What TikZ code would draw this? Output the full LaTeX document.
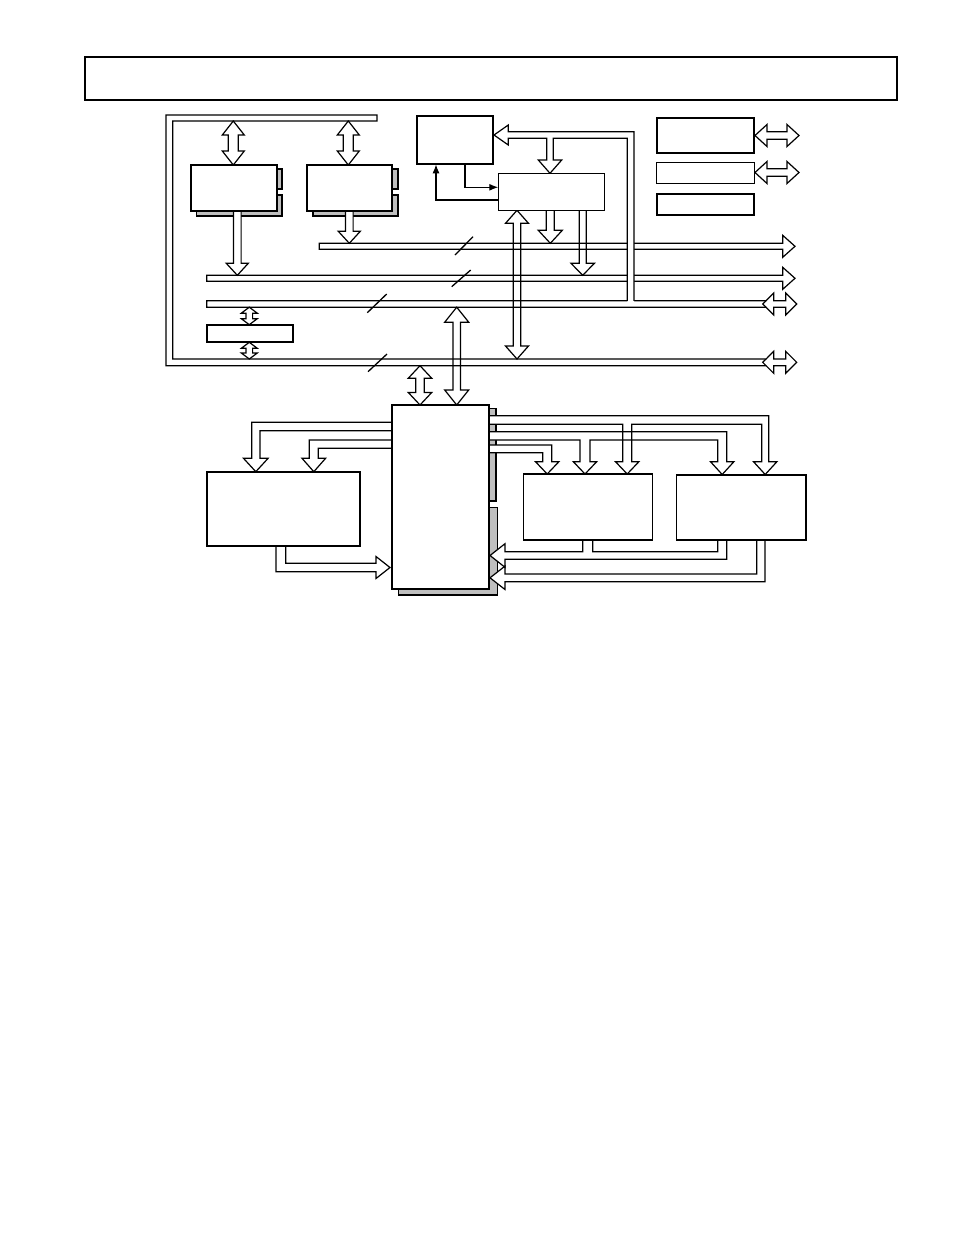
\documentclass[tikz,border=0pt]{standalone}
\usetikzlibrary{arrows.meta}
% hollow arrow shapes (pixel coordinates)
% {style}{cx}{y1}{y2}{shaft half}{head half}{head length}
\newcommand\dnarrow[7]{\path[#1] (#2-#5,#3) -- (#2-#5,#4-#7) -- (#2-#6,#4-#7) -- (#2,#4) -- (#2+#6,#4-#7) -- (#2+#5,#4-#7) -- (#2+#5,#3) -- cycle;}
\newcommand\vdarrow[7]{\path[#1] (#2,#3) -- (#2+#6,#3+#7) -- (#2+#5,#3+#7) -- (#2+#5,#4-#7) -- (#2+#6,#4-#7) -- (#2,#4) -- (#2-#6,#4-#7) -- (#2-#5,#4-#7) -- (#2-#5,#3+#7) -- (#2-#6,#3+#7) -- cycle;}
% {style}{cy}{x1}{x2}{shaft half}{head half}{head length}
\newcommand\hdarrow[7]{\path[#1] (#3,#2) -- (#3+#7,#2-#6) -- (#3+#7,#2-#5) -- (#4-#7,#2-#5) -- (#4-#7,#2-#6) -- (#4,#2) -- (#4-#7,#2+#6) -- (#4-#7,#2+#5) -- (#3+#7,#2+#5) -- (#3+#7,#2+#6) -- cycle;}

\newcommand\upperbuses[1]{%
  % outer U-shaped bus with double arrow end
  \path[#1] (377,115) -- (166,115) -- (166,365.7) -- (766.1,365.7) -- (773.7,373.3) -- (773.7,365.7) -- (785.7,365.7) -- (785.7,373.3) -- (796.7,362.3) -- (785.7,351.3) -- (785.7,359) -- (773.7,359) -- (773.7,351.3) -- (766.1,359) -- (172.7,359) -- (172.7,121) -- (377,121) -- cycle;
  \path[#1] (766.1,359) -- (762.7,362.3) -- (766.1,365.7);
  % bus 3
  \path[#1] (206.7,300.8) -- (765.9,300.8) -- (773.7,293) -- (773.7,300.8) -- (785.7,300.8) -- (785.7,293) -- (796.7,304) -- (785.7,315) -- (785.7,307.2) -- (773.7,307.2) -- (773.7,315) -- (765.9,307.2) -- (206.7,307.2) -- cycle;
  \path[#1] (765.9,300.8) -- (762.7,304) -- (765.9,307.2);
  % bus 2 and bus 1
  \path[#1] (206.7,275.3) -- (782.7,275.3) -- (782.7,267.3) -- (795,278.3) -- (782.7,289.3) -- (782.7,281.3) -- (206.7,281.3) -- cycle;
  \path[#1] (319.3,243.3) -- (782.7,243.3) -- (782.7,235.3) -- (795,246.3) -- (782.7,257.3) -- (782.7,249.3) -- (319.3,249.3) -- cycle;
  % memories
  \vdarrow{#1}{233.3}{121}{165}{5}{11}{14}
  \vdarrow{#1}{348.3}{121}{165}{5}{11}{14}
  \dnarrow{#1}{237.3}{211}{275.3}{3.8}{11}{12}
  \dnarrow{#1}{349.3}{211}{243.3}{3.8}{11}{12}
  % small box
  \vdarrow{#1}{249.3}{307.2}{324.7}{3.3}{8}{6}
  \vdarrow{#1}{249.3}{342.3}{359}{3.3}{8}{6}
  % from D
  \dnarrow{#1}{550.3}{210.3}{243.3}{4}{12}{13}
  \dnarrow{#1}{582.7}{210.3}{275.3}{3.5}{11.7}{12}
  \vdarrow{#1}{517}{210.3}{359}{3.7}{11.5}{13}
  % to M
  \vdarrow{#1}{456.7}{307.2}{405}{3.7}{12}{15}
  \vdarrow{#1}{420}{365.7}{405}{4.2}{11.7}{12.5}
  % E, F
  \hdarrow{#1}{135.5}{755}{799}{3.8}{11}{12}
  \hdarrow{#1}{172.5}{755}{799}{3.8}{11}{12}
}

\newcommand\lowerbuses[1]{%
  % M to L
  \path[#1] (391.7,422.3) -- (251.7,422.3) -- (251.7,458.3) -- (243.5,458.3) -- (255.8,471.7) -- (268.1,458.3) -- (260,458.3) -- (260,430.7) -- (391.7,430.7) -- cycle;
  \path[#1] (391.7,440) -- (309.3,440) -- (309.3,458.3) -- (302,458.3) -- (313.8,471.7) -- (325.6,458.3) -- (318.3,458.3) -- (318.3,448.3) -- (391.7,448.3) -- cycle;
  % L to M
  \path[#1] (276,545.7) -- (276,571.7) -- (376,571.7) -- (376,578.5) -- (390,567.5) -- (376,556.5) -- (376,563.3) -- (285.7,563.3) -- (285.7,545.7) -- cycle;
  % bus a
  \path[#1] (489,415.7) -- (768.7,415.7) -- (768.7,461.7) -- (776.9,461.7) -- (765.2,474.5) -- (753.5,461.7) -- (761.7,461.7) -- (761.7,424.3) -- (631.7,424.3) -- (631.7,461.7) -- (638.9,461.7) -- (627.2,474) -- (615.5,461.7) -- (622.7,461.7) -- (622.7,424.3) -- (489,424.3) -- cycle;
  % bus b
  \path[#1] (489,431.7) -- (726.7,431.7) -- (726.7,461.7) -- (733.9,461.7) -- (722.2,474.5) -- (710.5,461.7) -- (717.7,461.7) -- (717.7,440) -- (590,440) -- (590,461.7) -- (596.7,461.7) -- (585,474) -- (573.3,461.7) -- (580,461.7) -- (580,440) -- (489,440) -- cycle;
  % bus c
  \path[#1] (489,445) -- (551.7,445) -- (551.7,461.7) -- (558.9,461.7) -- (547.2,474) -- (535.5,461.7) -- (542.7,461.7) -- (542.7,452.7) -- (489,452.7) -- cycle;
  % bus e (R1, R2 back to M)
  \path[#1] (490,555.5) -- (505,543.7) -- (505,551.7) -- (582.7,551.7) -- (582.7,540) -- (592.7,540) -- (592.7,551.7) -- (717.7,551.7) -- (717.7,540) -- (726.7,540) -- (726.7,559.3) -- (505,559.3) -- (505,567.3) -- cycle;
  % bus f
  \path[#1] (490,577.8) -- (505,566.1) -- (505,574) -- (756.7,574) -- (756.7,540) -- (765,540) -- (765,581.7) -- (505,581.7) -- (505,589.5) -- cycle;
}

\begin{document}
\begin{tikzpicture}[x=1pt,y=-1pt,
  box/.style={draw, line width=1.8pt, fill=white, inner sep=0pt, outer sep=0pt},
  thinbox/.style={box, line width=1.3pt},
  shade/.style={draw, line width=1.1pt, fill=black!25},
  busfill/.style={fill=white, draw=none},
  busline/.style={draw, line width=1.2pt, line join=miter},
  thinarr/.style={draw, line width=1.2pt, -{Latex[length=9pt,width=7pt]}},
  slash/.style={draw, line width=1.3pt}]
\useasboundingbox[fill=white] (0,0) rectangle (954,1235);

% shadows
\path[shade] (270,169) rectangle (282,189);
\path[shade] (196.7,195) rectangle (282,216);
\path[shade] (386,169) rectangle (398,189);
\path[shade] (313,195) rectangle (398,216);
\path[shade] (480,408.3) rectangle (496,501);
\path[shade] (398.3,507.3) rectangle (497.3,595);

% upper buses
\upperbuses{busfill}
\upperbuses{busline}

% bus from C (covers crossing buses)
\path[busfill] (494,135) -- (508.3,125) -- (508.3,131.7) -- (634,131.7) -- (634,302) -- (627.3,302) -- (627.3,138.3) -- (553.3,138.3) -- (553.3,160) -- (561.7,160) -- (550,173.3) -- (538.3,160) -- (546.7,160) -- (546.7,138.3) -- (508.3,138.3) -- (508.3,145) -- cycle;
\path[busline] (627.3,300.8) -- (627.3,138.3) -- (553.3,138.3) -- (553.3,160) -- (561.7,160) -- (550,173.3) -- (538.3,160) -- (546.7,160) -- (546.7,138.3) -- (508.3,138.3) -- (508.3,145) -- (494,135) -- (508.3,125) -- (508.3,131.7) -- (634,131.7) -- (634,300.8);

% lower buses
\lowerbuses{busfill}
\lowerbuses{busline}

% boxes
\node[box, minimum width=812pt, minimum height=43pt] (title) at (491,78.5) {};
\node[box, minimum width=86pt, minimum height=46pt] (memA) at (233.7,188) {};
\node[box, minimum width=85.6pt, minimum height=46pt] (memB) at (349.5,188) {};
\node[box, minimum width=76pt, minimum height=48.6pt] (ctl) at (455.3,140) {};
\node[thinbox, line width=1.2pt, minimum width=106pt, minimum height=37pt] (seq) at (551.3,191.8) {};
\node[box, minimum width=97.6pt, minimum height=34.4pt] (boxE) at (705.5,135.5) {};
\node[thinbox, minimum width=97.6pt, minimum height=21pt] (boxF) at (705.5,172.8) {};
\node[box, minimum width=97.6pt, minimum height=21.3pt] (boxG) at (705.5,204.35) {};
\node[box, minimum width=86.6pt, minimum height=17.6pt] (small) at (250,333.5) {};
\node[box, minimum width=97.3pt, minimum height=184pt] (main) at (440.35,497) {};
\node[box, minimum width=153.3pt, minimum height=74pt] (left) at (283.35,508.7) {};
\node[thinbox, minimum width=129.4pt, minimum height=66pt] (rA) at (588,507) {};
\node[thinbox, minimum width=129.3pt, minimum height=65pt] (rB) at (741.35,507.5) {};

% thin control arrows between ctl and seq
\draw[thinarr] (ctl.south -| 465,0) -- (465,187.3) -- (seq.west |- 0,187.3);
\draw[thinarr] (seq.west |- 0,200) -- (436,200) -- (ctl.south -| 436,0);

% bus width marks
\draw[slash] (455,255) -- (473,236.7);
\draw[slash] (451.7,286.7) -- (470.7,270);
\draw[slash] (367.3,312.7) -- (386.7,294);
\draw[slash] (368,371.7) -- (387,354);
\end{tikzpicture}
\end{document}
